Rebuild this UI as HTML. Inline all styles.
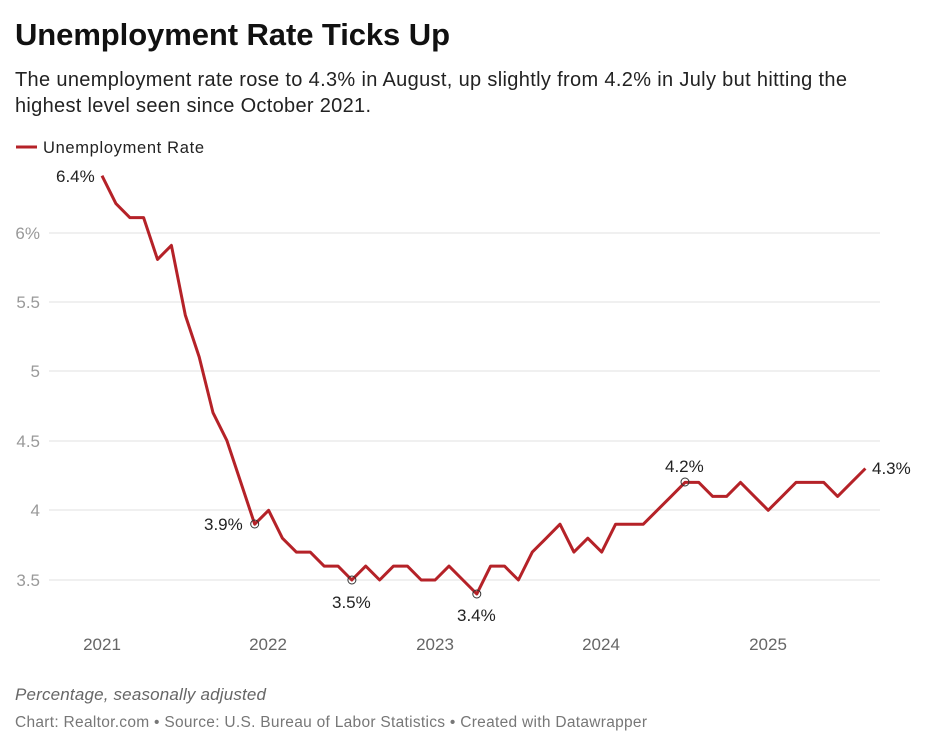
<!DOCTYPE html>
<html><head><meta charset="utf-8"><style>
body{margin:0;background:#fff;width:925px;height:747px;overflow:hidden;font-family:"Liberation Sans",sans-serif;}
svg{position:absolute;left:0;top:0}
</style></head><body>
<svg width="925" height="747" viewBox="0 0 925 747" font-family="Liberation Sans, sans-serif">
<text x="15" y="45" font-size="31" font-weight="bold" fill="#111" textLength="435">Unemployment Rate Ticks Up</text>
<text x="15" y="86" font-size="20" fill="#222" textLength="832">The unemployment rate rose to 4.3% in August, up slightly from 4.2% in July but hitting the</text>
<text x="15" y="112" font-size="20" fill="#222" textLength="356">highest level seen since October 2021.</text>
<line x1="16" y1="147" x2="37" y2="147" stroke="#b52228" stroke-width="3"/>
<text x="43" y="153" font-size="16.5" fill="#222" textLength="161">Unemployment Rate</text>
<g stroke="#e2e2e2" stroke-width="1">
<line x1="49" y1="233" x2="880" y2="233"/><line x1="49" y1="302" x2="880" y2="302"/>
<line x1="49" y1="371" x2="880" y2="371"/><line x1="49" y1="441" x2="880" y2="441"/>
<line x1="49" y1="510" x2="880" y2="510"/><line x1="49" y1="580" x2="880" y2="580"/>
</g>
<g font-size="17" fill="#999" text-anchor="end">
<text x="40" y="239">6%</text><text x="40" y="308">5.5</text><text x="40" y="377">5</text>
<text x="40" y="447">4.5</text><text x="40" y="516">4</text><text x="40" y="586">3.5</text>
</g>
<g font-size="17" fill="#666" text-anchor="middle">
<text x="102" y="650">2021</text><text x="268" y="650">2022</text><text x="435" y="650">2023</text>
<text x="601" y="650">2024</text><text x="768" y="650">2025</text>
</g>
<path id="ln" fill="none" stroke="#b52228" stroke-width="3" stroke-linejoin="round"/>
<g fill="none" stroke="#333" stroke-width="1">
<circle cx="254.7" cy="524" r="4"/><circle cx="351.9" cy="580" r="4"/>
<circle cx="476.8" cy="594" r="4"/><circle cx="685" cy="482" r="4"/>
</g>
<g font-size="17" fill="#222">
<text x="56" y="182">6.4%</text><text x="204" y="530">3.9%</text>
<text x="332" y="608">3.5%</text><text x="457" y="621">3.4%</text>
<text x="665" y="472">4.2%</text><text x="872" y="474">4.3%</text>
</g>
<text x="15" y="700" font-size="17" font-style="italic" fill="#666" textLength="251">Percentage, seasonally adjusted</text>
<text x="15" y="727" font-size="15.5" fill="#777" textLength="632">Chart: Realtor.com • Source: U.S. Bureau of Labor Statistics • Created with Datawrapper</text>
</svg>
<script>
var d=[6.4,6.2,6.1,6.1,5.8,5.9,5.4,5.1,4.7,4.5,4.2,3.9,4.0,3.8,3.7,3.7,3.6,3.6,3.5,3.6,3.5,3.6,3.6,3.5,3.5,3.6,3.5,3.4,3.6,3.6,3.5,3.7,3.8,3.9,3.7,3.8,3.7,3.9,3.9,3.9,4.0,4.1,4.2,4.2,4.1,4.1,4.2,4.1,4.0,4.1,4.2,4.2,4.2,4.1,4.2,4.3];
var p="";for(var i=0;i<d.length;i++){var x=102+i*13.88,y=580-(d[i]-3.5)*139.4;p+=(i?"L":"M")+x.toFixed(1)+","+y.toFixed(1);}
document.getElementById("ln").setAttribute("d",p);
</script>
</body></html>
